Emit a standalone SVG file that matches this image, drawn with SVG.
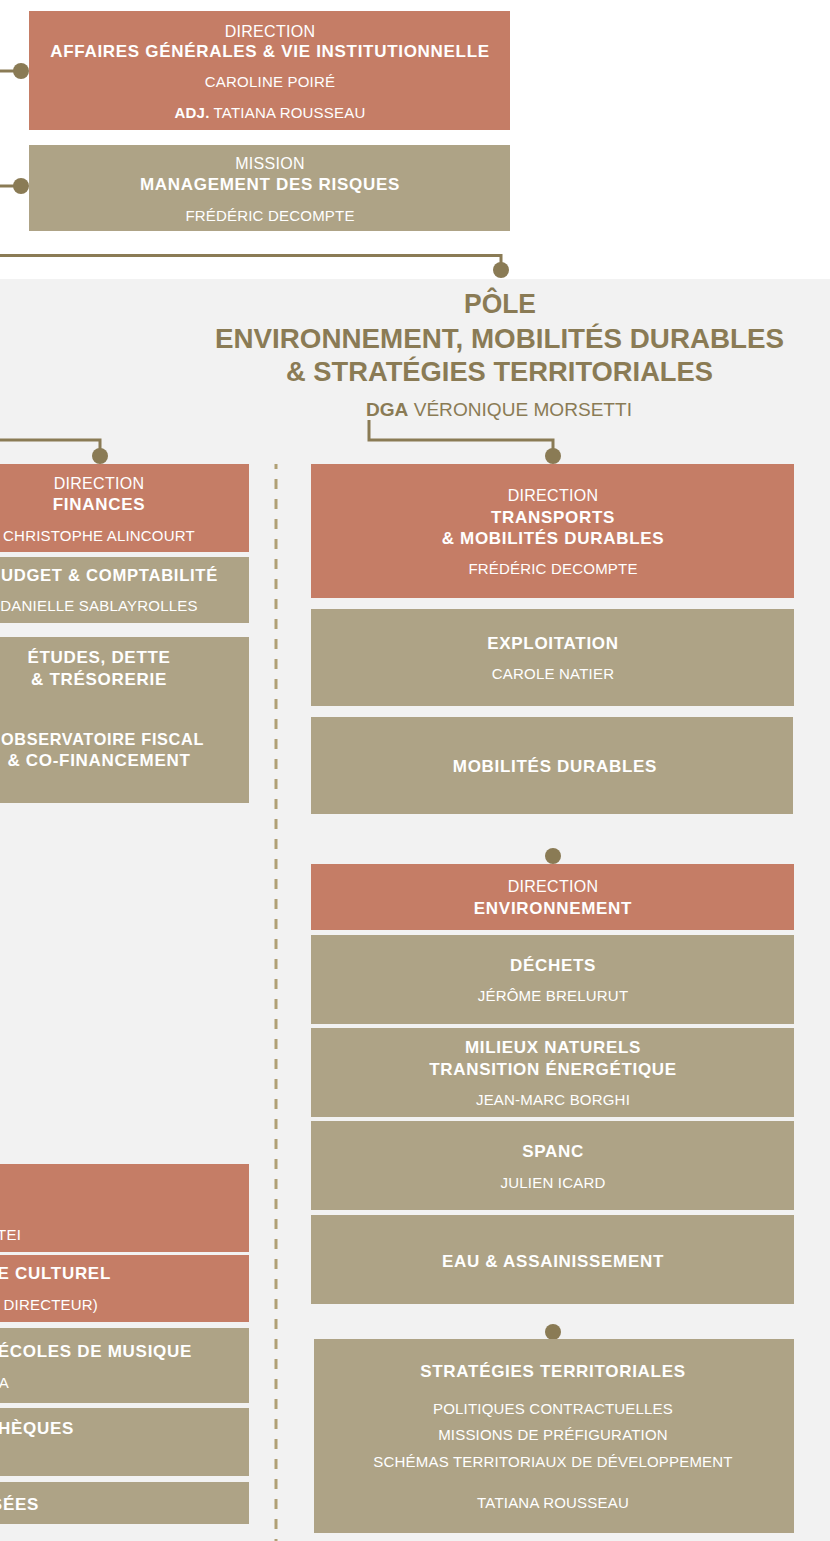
<svg xmlns="http://www.w3.org/2000/svg" width="830" height="1541" viewBox="0 0 830 1541">
<style>
.red{fill:#c57d66}
.tan{fill:#aea386}
.t{font-family:"Liberation Sans",Arial,sans-serif;fill:#ffffff;text-anchor:middle}
.e{text-anchor:end}
.s{text-anchor:start}
.lt{font-size:16px;letter-spacing:0.3px}
.b{font-size:17px;font-weight:bold;letter-spacing:0.7px}
.n{font-size:15px;letter-spacing:0.2px}
.ttl{font-family:"Liberation Sans",Arial,sans-serif;fill:#8a7b55;font-weight:bold;font-size:28px;text-anchor:middle}
.dga{font-family:"Liberation Sans",Arial,sans-serif;fill:#8a7b55;font-size:18px}
.ln{stroke:#8a7b55;stroke-width:3;fill:none}
.dot{fill:#8a7b55}
.dash{stroke:#b0a075;stroke-width:3;stroke-dasharray:10 10;stroke-dashoffset:5;fill:none}
</style>
<rect x="0" y="0" width="830" height="1541" fill="#ffffff"/>
<rect x="0" y="279" width="830" height="1262" fill="#f2f2f2"/>

<g id="connectors">
<path class="ln" d="M0 71 H22"/>
<circle class="dot" cx="21" cy="71" r="8"/>
<path class="ln" d="M0 186 H22"/>
<circle class="dot" cx="21" cy="186" r="8"/>
<path class="ln" d="M0 255.5 H501 V264"/>
<circle class="dot" cx="501" cy="270" r="8"/>
<path class="ln" d="M369 420 V440 H553 V450"/>
<circle class="dot" cx="553" cy="456" r="8"/>
<path class="ln" d="M0 440 H100 V450"/>
<circle class="dot" cx="100" cy="456" r="8"/>
<circle class="dot" cx="553" cy="856" r="8"/>
<circle class="dot" cx="553" cy="1332" r="8"/>
<path class="dash" d="M276 464 V1541"/>
</g>

<g id="affaires-generales">
<rect class="red" x="29" y="11" width="481" height="119"/>
<text class="t lt" x="270" y="37">DIRECTION</text>
<text class="t b" x="270" y="57">AFFAIRES GÉNÉRALES &amp; VIE INSTITUTIONNELLE</text>
<text class="t n" x="270" y="87">CAROLINE POIRÉ</text>
<text class="t n" x="270" y="118"><tspan font-weight="bold">ADJ.</tspan> TATIANA ROUSSEAU</text>
</g>

<g id="management-risques">
<rect class="tan" x="29" y="145" width="481" height="86"/>
<text class="t lt" x="270" y="169">MISSION</text>
<text class="t b" x="270" y="190">MANAGEMENT DES RISQUES</text>
<text class="t n" x="270" y="221">FRÉDÉRIC DECOMPTE</text>
</g>

<g id="pole-title">
<text class="ttl" x="500" y="313" textLength="72" lengthAdjust="spacingAndGlyphs">PÔLE</text>
<text class="ttl" x="499.5" y="348" textLength="569" lengthAdjust="spacingAndGlyphs">ENVIRONNEMENT, MOBILITÉS DURABLES</text>
<text class="ttl" x="499.5" y="381" textLength="427" lengthAdjust="spacingAndGlyphs">&amp; STRATÉGIES TERRITORIALES</text>
<text class="dga" x="366" y="416" textLength="266" lengthAdjust="spacingAndGlyphs"><tspan font-weight="bold">DGA</tspan> VÉRONIQUE MORSETTI</text>
</g>

<g id="finances">
<rect class="red" x="0" y="464" width="249" height="88"/>
<text class="t lt" x="99" y="489">DIRECTION</text>
<text class="t b" x="99" y="510">FINANCES</text>
<text class="t n" x="99" y="541">CHRISTOPHE ALINCOURT</text>
</g>
<g id="budget">
<rect class="tan" x="0" y="557" width="249" height="66"/>
<text class="t b s" x="1" y="581" textLength="217" lengthAdjust="spacingAndGlyphs">UDGET &amp; COMPTABILITÉ</text>
<text class="t n" x="99" y="611">DANIELLE SABLAYROLLES</text>
</g>
<g id="etudes">
<rect class="tan" x="0" y="637" width="249" height="166"/>
<text class="t b" x="99" y="663">ÉTUDES, DETTE</text>
<text class="t b" x="99" y="685">&amp; TRÉSORERIE</text>
<text class="t b s" x="1" y="745" textLength="203" lengthAdjust="spacingAndGlyphs">OBSERVATOIRE FISCAL</text>
<text class="t b" x="99" y="766">&amp; CO-FINANCEMENT</text>
</g>

<g id="left-red-1">
<rect class="red" x="0" y="1164" width="249" height="88"/>
<text class="t n e" x="21" y="1240">TEI</text>
</g>
<g id="left-red-2">
<rect class="red" x="0" y="1255" width="249" height="67"/>
<text class="t b e" x="111" y="1279">E CULTUREL</text>
<text class="t n e" x="98" y="1310">U DIRECTEUR)</text>
</g>
<g id="left-musique">
<rect class="tan" x="0" y="1328" width="249" height="75"/>
<text class="t b e" x="192" y="1357">ÉCOLES DE MUSIQUE</text>
<text class="t n e" x="9" y="1388">A</text>
</g>
<g id="left-bibliotheques">
<rect class="tan" x="0" y="1408" width="249" height="68"/>
<text class="t b e" x="74" y="1434">HÈQUES</text>
</g>
<g id="left-musees">
<rect class="tan" x="0" y="1482" width="249" height="42"/>
<text class="t b e" x="39" y="1510">SÉES</text>
</g>

<g id="transports">
<rect class="red" x="311" y="464" width="483" height="134"/>
<text class="t lt" x="553" y="501">DIRECTION</text>
<text class="t b" x="553" y="523">TRANSPORTS</text>
<text class="t b" x="553" y="544">&amp; MOBILITÉS DURABLES</text>
<text class="t n" x="553" y="574">FRÉDÉRIC DECOMPTE</text>
</g>
<g id="exploitation">
<rect class="tan" x="311" y="609" width="483" height="97"/>
<text class="t b" x="553" y="649">EXPLOITATION</text>
<text class="t n" x="553" y="679">CAROLE NATIER</text>
</g>
<g id="mobilites-durables">
<rect class="tan" x="311" y="717" width="482" height="97"/>
<text class="t b" x="555" y="772">MOBILITÉS DURABLES</text>
</g>
<g id="environnement">
<rect class="red" x="311" y="864" width="483" height="66"/>
<text class="t lt" x="553" y="892">DIRECTION</text>
<text class="t b" x="553" y="914">ENVIRONNEMENT</text>
</g>
<g id="dechets">
<rect class="tan" x="311" y="935" width="483" height="89"/>
<text class="t b" x="553" y="971">DÉCHETS</text>
<text class="t n" x="553" y="1001">JÉRÔME BRELURUT</text>
</g>
<g id="milieux">
<rect class="tan" x="311" y="1028" width="483" height="89"/>
<text class="t b" x="553" y="1053">MILIEUX NATURELS</text>
<text class="t b" x="553" y="1075">TRANSITION ÉNERGÉTIQUE</text>
<text class="t n" x="553" y="1105">JEAN-MARC BORGHI</text>
</g>
<g id="spanc">
<rect class="tan" x="311" y="1121" width="483" height="89"/>
<text class="t b" x="553" y="1157">SPANC</text>
<text class="t n" x="553" y="1188">JULIEN ICARD</text>
</g>
<g id="eau">
<rect class="tan" x="311" y="1215" width="483" height="89"/>
<text class="t b" x="553" y="1267">EAU &amp; ASSAINISSEMENT</text>
</g>
<g id="strategies">
<rect class="tan" x="314" y="1339" width="480" height="194"/>
<text class="t b" x="553" y="1377">STRATÉGIES TERRITORIALES</text>
<text class="t n" x="553" y="1414">POLITIQUES CONTRACTUELLES</text>
<text class="t n" x="553" y="1440">MISSIONS DE PRÉFIGURATION</text>
<text class="t n" x="553" y="1467">SCHÉMAS TERRITORIAUX DE DÉVELOPPEMENT</text>
<text class="t n" x="553" y="1508">TATIANA ROUSSEAU</text>
</g>
</svg>
